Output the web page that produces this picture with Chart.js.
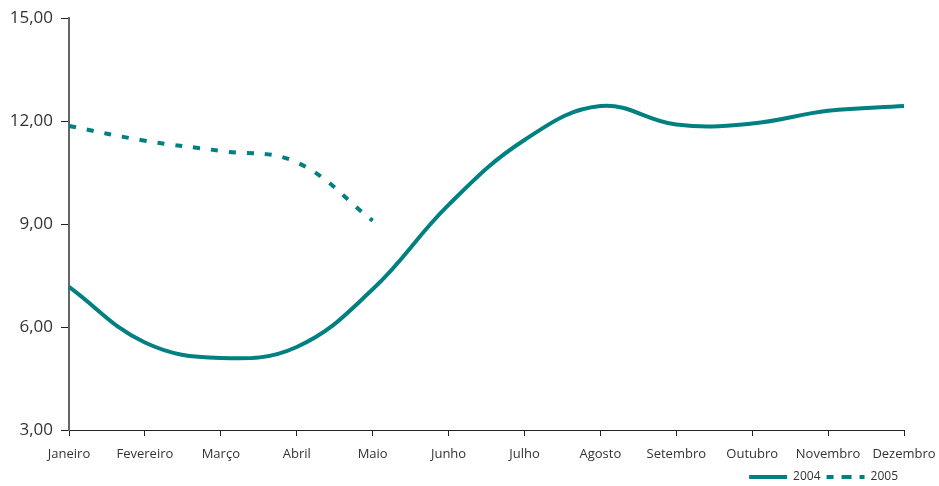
<!DOCTYPE html>
<html>
<head>
<meta charset="utf-8">
<script src="https://cdn.jsdelivr.net/npm/chart.js@4"></script>
<style>
	html, body { margin: 0; padding: 0; background: #fff; }
	#wrap { width: 939px; height: 486px; }
</style>
</head>
<body>
<div id="wrap"><canvas id="lineChart" width="939" height="486"></canvas></div>
<script>
const months = ['Janeiro', 'Fevereiro', 'Março', 'Abril', 'Maio', 'Junho', 'Julho', 'Agosto', 'Setembro', 'Outubro', 'Novembro', 'Dezembro'];
const values2004 = [7.17, 5.55, 5.1, 5.42, 7.1, 9.56, 11.45, 12.44, 11.9, 11.93, 12.3, 12.44];
const values2005 = [11.86, 11.43, 11.13, 10.8, 9.1];
const yTicks = [3, 6, 9, 12, 15];

const teal = 'rgb(0, 128, 128)';

// Chart
const ctx = document.getElementById('lineChart').getContext('2d');
new Chart(ctx, {
	type: 'line',
	data: {
		labels: months,
		datasets: [{
			label: '2004',
			data: values2004,
			borderColor: teal,
			backgroundColor: 'transparent',
			borderWidth: 4,
			pointRadius: 0,
			tension: 0.4
		}, {
			label: '2005',
			data: values2005,
			borderColor: teal,
			backgroundColor: 'transparent',
			borderWidth: 4,
			borderDash: [7, 11],
			pointRadius: 0,
			tension: 0.4
		}]
	},
	options: {
		responsive: false,
		maintainAspectRatio: false,
		animation: {
			duration: 0
		},
		layout: {
			padding: { left: 0, right: 35, top: 10, bottom: -7 }
		},
		plugins: {
			tooltip: { enabled: false },
			legend: {
				position: 'bottom',
				align: 'end',
				labels: {
					boxWidth: 38,
					boxHeight: 0,
					padding: 6,
					color: '#333',
					font: { family: 'Open Sans', size: 12 }
				}
			}
		},
		scales: {
			x: {
				grid: {
					display: true,
					drawOnChartArea: false,
					drawTicks: true,
					tickLength: 6,
					color: '#222'
				},
				border: { color: '#222', width: 1 },
				ticks: {
					autoSkip: false,
					maxRotation: 0,
					padding: 10,
					color: '#333',
					font: { family: 'Open Sans', size: 13 }
				},
				afterFit: function(scale) {
					scale.height = 35;
					scale.paddingRight = 0;
					scale.paddingLeft = 0;
				}
			},
			y: {
				min: 3,
				max: 15,
				afterBuildTicks: function(scale) {
					scale.ticks = yTicks.map(v => ({ value: v }));
				},
				grid: {
					display: true,
					drawOnChartArea: false,
					drawTicks: true,
					tickLength: 8,
					color: '#222'
				},
				border: { color: '#666', width: 2 },
				ticks: {
					padding: 8,
					color: '#333',
					font: { family: 'Open Sans', size: 17 },
					callback: function(value) {
						return value.toFixed(2).replace('.', ',');
					}
				},
				afterFit: function(scale) { scale.width = 69; }
			}
		}
	}
});
</script>
</body>
</html>
